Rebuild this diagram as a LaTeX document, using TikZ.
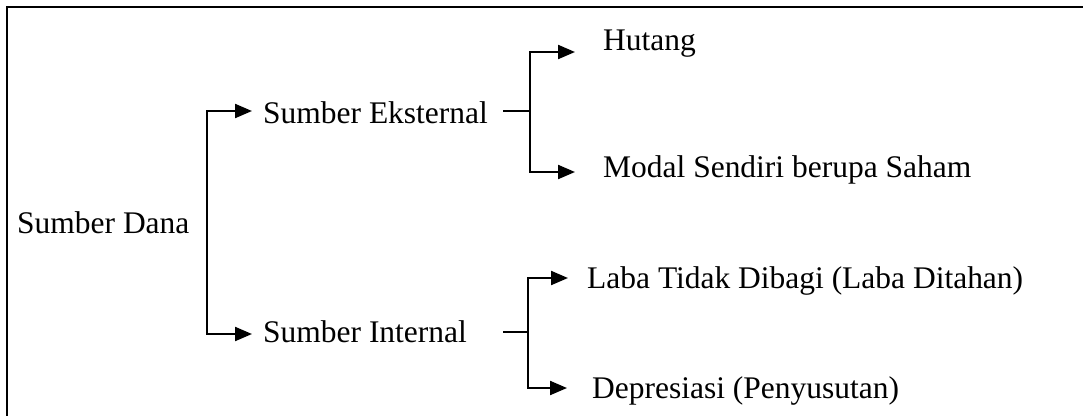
\documentclass[tikz,border=0pt]{standalone}
\usepackage{fontspec}
\setmainfont{Liberation Serif}
\usetikzlibrary{arrows.meta}
\begin{document}
\begin{tikzpicture}[x=1bp,y=-1bp,
  lbl/.style={anchor=base west,inner sep=0pt,font=\fontsize{31.6}{36}\selectfont},
  conn/.style={line width=2.2bp},
  arr/.style={conn,-{Triangle[length=17bp,width=14bp]}},
  frame/.style={line width=2.6bp}]
\useasboundingbox (0,0) rectangle (1083,415);
\draw[frame] (7,420) -- (7,7) -- (1090,7);
% labels
\node[lbl] (dana) at (17,233) {Sumber Dana};
\node[lbl] (eks) at (263,123) {Sumber Eksternal};
\node[lbl] (int) at (263,342) {Sumber Internal};
\node[lbl] (hut) at (603,50) {Hutang};
\node[lbl] (mod) at (603,177) {Modal Sendiri berupa Saham};
\node[lbl] (laba) at (587,288) {Laba Tidak Dibagi (Laba Ditahan)};
\node[lbl] (dep) at (592,398) {Depresiasi (Penyusutan)};
% junction coordinates
\coordinate (dj) at (207,222);
\coordinate (eksin) at (252,111);
\coordinate (intin) at (252,334);
\coordinate (eksout) at (503,111);
\coordinate (ej) at (530,111);
\coordinate (hutin) at (575,52);
\coordinate (modin) at (575,172);
\coordinate (intout) at (503,332);
\coordinate (ij) at (528,332);
\coordinate (labain) at (568,278);
\coordinate (depin) at (567,388);
% connectors
\draw[arr] (dj) |- (eksin);
\draw[arr] (dj) |- (intin);
\draw[conn] (eksout) -- (ej);
\draw[arr] (ej) |- (hutin);
\draw[arr] (ej) |- (modin);
\draw[conn] (intout) -- (ij);
\draw[arr] (ij) |- (labain);
\draw[arr] (ij) |- (depin);
\end{tikzpicture}
\end{document}
